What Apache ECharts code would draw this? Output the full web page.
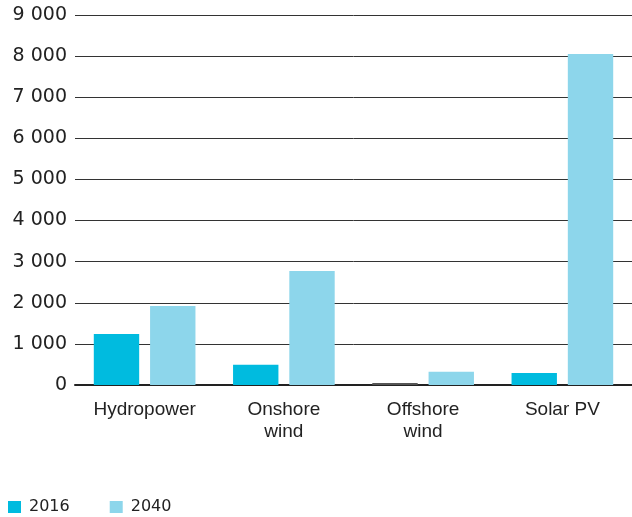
<!DOCTYPE html>
<html>
<head>
<meta charset="utf-8">
<script src="https://cdn.jsdelivr.net/npm/echarts@6/dist/echarts.min.js"></script>
<style>
  html, body { margin: 0; padding: 0; background: #fff; }
  #chart { width: 632px; height: 517px; }
</style>
</head>
<body>
<div id="chart"></div>
<script>
// chart data
const categories = ['Hydropower', 'Onshore\nwind', 'Offshore\nwind', 'Solar PV']
const values2016 = [1240, 490, 20, 290]
const values2040 = [1920, 2770, 320, 8050]
const yTicks = [0, 1000, 2000, 3000, 4000, 5000, 6000, 7000, 8000, 9000]

const digitFont = '"DejaVu Sans", sans-serif'
const labelFont = '"Liberation Sans", Arial, sans-serif'

const chart = echarts.init(document.getElementById('chart'))

chart.setOption({
  animation: false,
  textStyle: { fontFamily: digitFont },
  grid: {
    left: 75,
    right: 0,
    top: 15,
    bottom: 132
  },
  legend: {
    left: 8,
    top: 499,
    padding: 0,
    itemWidth: 13,
    itemHeight: 12,
    itemGap: 40,
    icon: 'rect',
    textStyle: { fontFamily: digitFont, fontSize: 16, color: '#222', padding: [0, 0, 0, 3] },
    data: ['2016', '2040']
  },
  xAxis: {
    type: 'category',
    data: categories,
    axisTick: { show: false },
    axisLine: { lineStyle: { color: '#222', width: 2 } },
    axisLabel: {
      fontFamily: labelFont,
      fontSize: 19,
      color: '#222',
      margin: 14,
      lineHeight: 22
    }
  },
  yAxis: {
    type: 'value',
    min: yTicks[0],
    max: yTicks[yTicks.length - 1],
    interval: 1000,
    axisLine: { show: false },
    axisTick: { show: false },
    splitLine: { lineStyle: { color: '#333', width: 1 } },
    axisLabel: {
      fontFamily: digitFont,
      fontSize: 19,
      color: '#222',
      margin: 8,
      padding: [3, 0, 0, 0],
      formatter: v => String(v).replace(/\B(?=(\d{3})+(?!\d))/g, ' ')
    }
  },
  series: [{
    name: '2016',
    type: 'bar',
    data: values2016,
    barGap: '24%',
    barCategoryGap: '27%',
    barMinHeight: 2,
    itemStyle: {
      color: function(params) {
        // tiny offshore bar shows up as a dark sliver
        return params.value < 50 ? '#555' : '#00bbdf'
      }
    }
  }, {
    name: '2040',
    type: 'bar',
    data: values2040,
    itemStyle: { color: '#8dd6eb' }
  }],
  color: ['#00bbdf', '#8dd6eb']
})
</script>
</body>
</html>
